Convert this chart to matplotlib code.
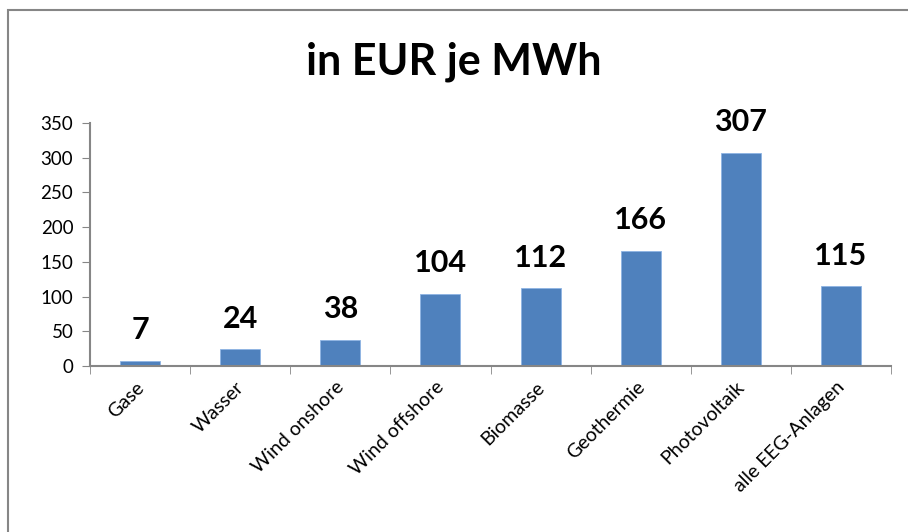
import matplotlib.pyplot as plt
from matplotlib.patches import Rectangle
from matplotlib.transforms import ScaledTranslation

# Kosten je Energieträger
categories = ["Gase", "Wasser", "Wind onshore", "Wind offshore", "Biomasse",
              "Geothermie", "Photovoltaik", "alle EEG-Anlagen"]
values = [7, 24, 38, 104, 112, 166, 307, 115]
yticks = [0, 50, 100, 150, 200, 250, 300, 350]

plt.rcParams['font.family'] = ['Lato', 'DejaVu Sans']

fig = plt.figure(figsize=(9.08, 5.32), dpi=100)
ax = fig.add_axes([0.0991, 0.312, 0.8822, 0.4568])

x = range(len(categories))
ax.bar(x, values, width=0.4, color="#4F81BD", edgecolor="#8EB4E3", linewidth=0.6)

for xi, v in zip(x, values):
    ax.annotate(str(v), (xi, v), xytext=(0, 12), textcoords="offset points",
                ha="center", va="bottom", fontsize=22, fontweight="bold")

ax.set_xlim(-0.5, len(categories) - 0.5)
ax.set_ylim(0, 350)
ax.set_yticks(yticks)
ax.tick_params(axis="y", labelsize=13.5, length=6, color="#868686", pad=6)

# x ticks sit between categories
ax.set_xticks([i - 0.5 for i in range(len(categories) + 1)], minor=True)
ax.set_xticks(list(x))
ax.set_xticklabels(categories, rotation=45, ha="right", rotation_mode="anchor", fontsize=14)
ax.tick_params(axis="x", which="major", length=0, pad=9)
ax.tick_params(axis="x", which="minor", length=6, color="#868686")
shift = ScaledTranslation(-5 / 100, 0, fig.dpi_scale_trans)
for lbl in ax.get_xticklabels():
    lbl.set_transform(lbl.get_transform() + shift)

for s in ["top", "right"]:
    ax.spines[s].set_visible(False)
for s in ["left", "bottom"]:
    ax.spines[s].set_color("#868686")
    ax.spines[s].set_linewidth(1.5)

fig.text(0.5, 0.883, "in EUR je MWh", ha="center", va="center",
         fontsize=31, fontweight="bold")

# chart frame
fig.patches.append(Rectangle((8 / 908, -0.1), 1.2, 1 - 10 / 532 + 0.1,
                             transform=fig.transFigure, fill=False,
                             edgecolor="#868686", linewidth=1.5))

fig.savefig("out.png", dpi=100)
